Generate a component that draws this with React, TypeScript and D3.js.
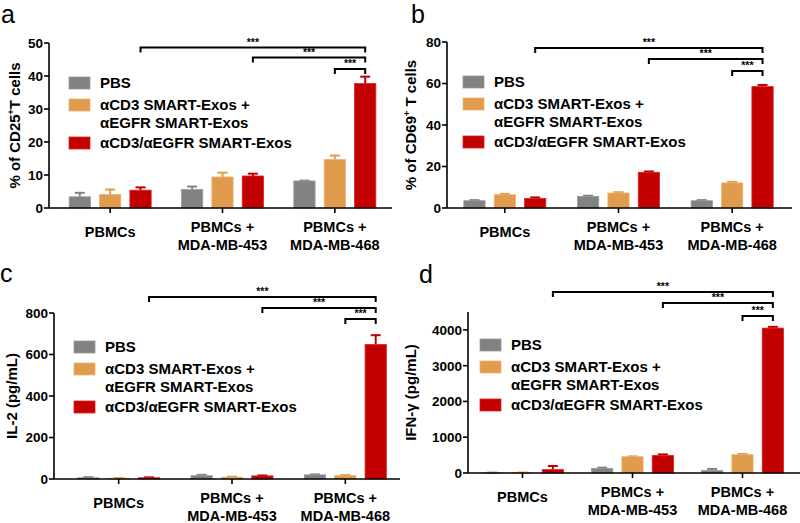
import React from "react";
import * as d3 from "d3";

// ---------- DATA ----------
const categories: string[][] = [["PBMCs"], ["PBMCs +", "MDA-MB-453"], ["PBMCs +", "MDA-MB-468"]];
const seriesNames: string[][] = [["PBS"], ["αCD3 SMART-Exos +", "αEGFR SMART-Exos"], ["αCD3/αEGFR SMART-Exos"]];
const seriesColors = ["#828282", "#E09B4C", "#C30000"];
const seriesStroke = ["#9a9a9a", "#EBB574", "#E02020"];

// a: % of CD25+ T cells
const cd25Pbs = [3.4, 5.6, 8.2];
const cd25Mix = [4.1, 9.4, 14.7];
const cd25Bi = [5.4, 9.7, 37.7];
const cd25PbsErr = [1.2, 0.9, 0.1];
const cd25MixErr = [1.5, 1.3, 1.2];
const cd25BiErr = [0.85, 0.7, 2.1];
const cd25Ticks = [0, 10, 20, 30, 40, 50];

// b: % of CD69+ T cells
const cd69Pbs = [3.5, 5.6, 3.5];
const cd69Mix = [6.4, 7.2, 12.1];
const cd69Bi = [4.6, 17.2, 58.5];
const cd69PbsErr = [0.3, 0.3, 0.3];
const cd69MixErr = [0.4, 0.4, 0.5];
const cd69BiErr = [0.5, 0.4, 0.8];
const cd69Ticks = [0, 20, 40, 60, 80];

// c: IL-2 (pg/mL)
const il2Pbs = [6, 16, 20];
const il2Mix = [4, 9, 16];
const il2Bi = [6, 15, 648];
const il2PbsErr = [3, 4, 2];
const il2MixErr = [1, 2, 3];
const il2BiErr = [2, 2, 45];
const il2Ticks = [0, 200, 400, 600, 800];

// d: IFN-γ (pg/mL)
const ifnPbs = [5, 130, 70];
const ifnMix = [8, 455, 510];
const ifnBi = [95, 490, 4050];
const ifnPbsErr = [5, 20, 45];
const ifnMixErr = [5, 10, 20];
const ifnBiErr = [100, 30, 35];
const ifnTicks = [0, 1000, 2000, 3000, 4000];

// significance comparisons: [catA, serA, catB, serB]
const comparisons = [
  [0, 2, 2, 2],
  [1, 2, 2, 2],
  [2, 1, 2, 2],
];
const sigLabel = "***";

const FONT = "'Liberation Sans', Arial, Helvetica, sans-serif";

type PanelProps = {
  letter: string;
  letterX: number;
  letterY: number;
  left: number;
  right: number;
  top: number;
  bottom: number;
  yMax: number;
  ticks: number[];
  band: [number, number];
  means: number[][];
  errs: number[][];
  title: React.ReactNode;
  titleX: number;
  legendX: number;
  legendY: number;
  bracketY: number[];
};

function Panel(p: PanelProps) {
  const y = d3.scaleLinear().domain([0, p.yMax]).range([p.bottom, p.top]);
  const x0 = d3.scaleBand<number>().domain([0, 1, 2]).range(p.band).padding(0);
  const x1 = d3.scaleBand<number>().domain([0, 1, 2]).range([-41, 41]).paddingInner(0.3).paddingOuter(0);
  const bw = x1.bandwidth();
  const cx = (c: number, s: number) => (x0(c) as number) + x0.bandwidth() / 2 + (x1(s) as number) + bw / 2;
  const gc = (c: number) => (x0(c) as number) + x0.bandwidth() / 2;

  return (
    <g>
      <text x={p.letterX} y={p.letterY} fontSize={25} fontFamily={FONT}>
        {p.letter}
      </text>
      {/* y axis */}
      <line x1={p.left} x2={p.left} y1={p.top} y2={p.bottom} stroke="#000" strokeWidth={1.6} />
      {p.ticks.map((t) => (
        <g key={t}>
          <line x1={p.left - 5} x2={p.left} y1={y(t)} y2={y(t)} stroke="#000" strokeWidth={1.6} />
          <text
            x={p.left - 6}
            y={y(t)}
            dy="0.36em"
            textAnchor="end"
            fontSize={13.5}
            fontWeight="bold"
            fontFamily={FONT}
          >
            {t}
          </text>
        </g>
      ))}
      <text
        transform={`translate(${p.titleX},${(p.top + p.bottom) / 2}) rotate(-90)`}
        dy="0.36em"
        textAnchor="middle"
        fontSize={15}
        fontWeight="bold"
        fontFamily={FONT}
      >
        {p.title}
      </text>
      {/* bars */}
      {p.means.map((vals, s) =>
        vals.map((v, c) => {
          const xc = cx(c, s);
          const e = p.errs[s][c];
          return (
            <g key={`${s}-${c}`}>
              <line x1={xc} x2={xc} y1={y(v)} y2={y(v + e)} stroke={seriesColors[s]} strokeWidth={2} />
              <line x1={xc - 5} x2={xc + 5} y1={y(v + e)} y2={y(v + e)} stroke={seriesColors[s]} strokeWidth={2} />
              <rect
                x={xc - bw / 2}
                y={y(v)}
                width={bw}
                height={p.bottom - y(v)}
                fill={seriesColors[s]}
                stroke={seriesStroke[s]}
                strokeWidth={0.8}
              />
            </g>
          );
        })
      )}
      {/* x axis */}
      <line x1={p.left} x2={p.right} y1={p.bottom} y2={p.bottom} stroke="#000" strokeWidth={1.6} />
      {categories.map((lines, c) => (
        <g key={c}>
          <line x1={gc(c)} x2={gc(c)} y1={p.bottom} y2={p.bottom + 5} stroke="#000" strokeWidth={1.6} />
          <text textAnchor="middle" fontSize={14.5} fontWeight="bold" fontFamily={FONT}>
            {lines.map((ln, i) => (
              <tspan
                key={i}
                x={gc(c)}
                y={lines.length === 1 ? p.bottom + 29 : p.bottom + 24 + i * 18}
              >
                {ln}
              </tspan>
            ))}
          </text>
        </g>
      ))}
      {/* legend */}
      {seriesNames.map((lines, s) => {
        const sqY = p.legendY + [0, 22, 60][s];
        return (
          <g key={s}>
            <rect x={p.legendX} y={sqY} width={21} height={12} fill={seriesColors[s]} stroke={seriesStroke[s]} strokeWidth={0.8} />
            {lines.map((ln, i) => (
              <text
                key={i}
                x={p.legendX + 31}
                y={sqY + 11 + i * 18}
                fontSize={15}
                fontWeight="bold"
                fontFamily={FONT}
              >
                {ln}
              </text>
            ))}
          </g>
        );
      })}
      {/* significance brackets */}
      {comparisons.map(([ca, sa, cb, sb], i) => {
        const xa = cx(ca, sa);
        const xb = cx(cb, sb);
        const by = p.bracketY[i];
        return (
          <g key={i}>
            <path
              d={`M${xa},${by + 5}V${by}H${xb}V${by + 5}`}
              fill="none"
              stroke="#000"
              strokeWidth={2}
            />
            <text
              x={(xa + xb) / 2}
              y={by - 2}
              textAnchor="middle"
              fontSize={10.5}
              fontWeight="bold"
              fontFamily={FONT}
            >
              {sigLabel}
            </text>
          </g>
        );
      })}
    </g>
  );
}

export default function App() {
  return (
    <svg
      width={800}
      height={523}
      style={{ position: "absolute", left: 0, top: 0, background: "#fff" }}
    >
      <rect width={800} height={523} fill="#fff" />
      <Panel
        letter="a"
        letterX={1}
        letterY={23}
        left={49}
        right={392}
        top={43}
        bottom={208}
        yMax={50}
        ticks={cd25Ticks}
        band={[54, 391]}
        means={[cd25Pbs, cd25Mix, cd25Bi]}
        errs={[cd25PbsErr, cd25MixErr, cd25BiErr]}
        title={
          <>
            % of CD25
            <tspan fontSize={9} dy={-6}>+</tspan>
            <tspan dy={6}>T cells</tspan>
          </>
        }
        titleX={15}
        legendX={69}
        legendY={77}
        bracketY={[47.5, 57.5, 69]}
      />
      <Panel
        letter="b"
        letterX={411}
        letterY={23}
        left={447}
        right={792}
        top={42}
        bottom={208}
        yMax={80}
        ticks={cd69Ticks}
        band={[448, 789]}
        means={[cd69Pbs, cd69Mix, cd69Bi]}
        errs={[cd69PbsErr, cd69MixErr, cd69BiErr]}
        title={
          <>
            % of CD69
            <tspan fontSize={9} dy={-6}>+</tspan>
            <tspan dy={6}> T cells</tspan>
          </>
        }
        titleX={411}
        legendX={463}
        legendY={76}
        bracketY={[48, 59, 71]}
      />
      <Panel
        letter="c"
        letterX={0}
        letterY={282}
        left={54}
        right={400}
        top={313}
        bottom={479}
        yMax={800}
        ticks={il2Ticks}
        band={[62, 402]}
        means={[il2Pbs, il2Mix, il2Bi]}
        errs={[il2PbsErr, il2MixErr, il2BiErr]}
        title="IL-2 (pg/mL)"
        titleX={12}
        legendX={74}
        legendY={341}
        bracketY={[297, 308, 319]}
      />
      <Panel
        letter="d"
        letterX={419}
        letterY={283}
        left={468}
        right={800}
        top={312}
        bottom={473}
        yMax={4500}
        ticks={ifnTicks}
        band={[467.5, 797.5]}
        means={[ifnPbs, ifnMix, ifnBi]}
        errs={[ifnPbsErr, ifnMixErr, ifnBiErr]}
        title="IFN-γ (pg/mL)"
        titleX={411}
        legendX={480}
        legendY={339}
        bracketY={[292, 303, 316]}
      />
    </svg>
  );
}
